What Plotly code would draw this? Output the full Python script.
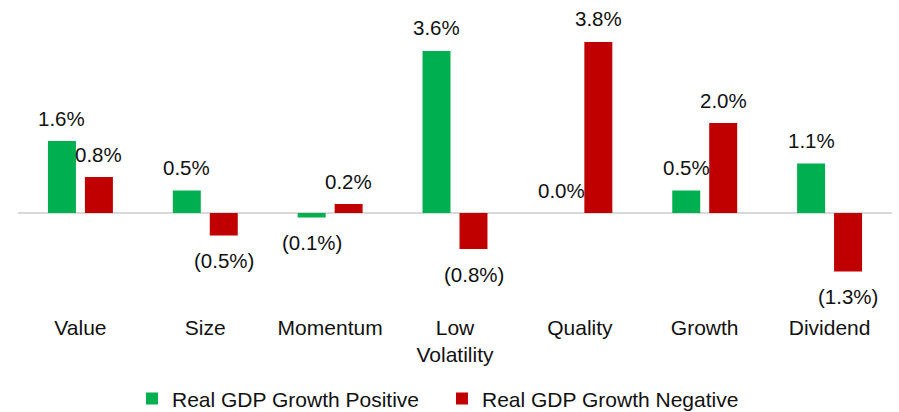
import plotly.graph_objects as go

# Factor returns by real GDP growth regime (%)
categories = ["Value", "Size", "Momentum", "Low<br>Volatility", "Quality", "Growth", "Dividend"]
gdp_positive = [1.6, 0.5, -0.1, 3.6, 0.0, 0.5, 1.1]
gdp_negative = [0.8, -0.5, 0.2, -0.8, 3.8, 2.0, -1.3]
series_names = ["Real GDP Growth Positive", "Real GDP Growth Negative"]
series_colors = ["#00B050", "#C00000"]

FONT = "Liberation Sans, Arial, sans-serif"
TEXT_COLOR = "#111111"


def fmt(v):
    return f"({abs(v):.1f}%)" if v < 0 else f"{v:.1f}%"


fig = go.Figure()
for name, vals, color in zip(series_names, [gdp_positive, gdp_negative], series_colors):
    fig.add_trace(go.Bar(
        x=categories, y=vals, name=name,
        marker=dict(color=color, line=dict(width=0)),
        hoverinfo="skip",
    ))

# value labels above positive bars, below negative ones
annotations = []
for shift, vals in zip([-18.5, 18.5], [gdp_positive, gdp_negative]):
    for cat, v in zip(categories, vals):
        annotations.append(dict(
            x=cat, y=v, xref="x", yref="y", text=fmt(v), showarrow=False,
            xshift=shift, yshift=(-25 if v < 0 else 23), yanchor="middle",
            font=dict(family=FONT, size=20.5, color=TEXT_COLOR),
        ))

fig.update_layout(
    width=899, height=412,
    margin=dict(l=18, r=7, t=0, b=107, autoexpand=False),
    paper_bgcolor="white", plot_bgcolor="white",
    barmode="group", bargap=0.408, bargroupgap=0.243,
    font=dict(family=FONT, size=21, color=TEXT_COLOR),
    annotations=annotations,
    showlegend=True,
    legend=dict(
        orientation="h", x=0.1304, xanchor="left", y=-0.308, yanchor="middle",
        entrywidth=265, entrywidthmode="pixels",
        font=dict(family=FONT, size=21, color=TEXT_COLOR),
        itemclick=False, itemdoubleclick=False,
    ),
    hovermode=False,
)
fig.update_xaxes(
    showgrid=False, showline=False, ticks="", zeroline=False,
    tickfont=dict(family=FONT, size=21, color=TEXT_COLOR),
    ticklabelstandoff=8,
    range=[-0.5, 6.5],
)
fig.update_yaxes(
    range=[-2.044, 4.733], showgrid=False, showticklabels=False, ticks="",
    showline=False, zeroline=True, zerolinecolor="#D9D9D9", zerolinewidth=2,
)

fig.write_html("out.html", config=dict(displayModeBar=False, staticPlot=True))
